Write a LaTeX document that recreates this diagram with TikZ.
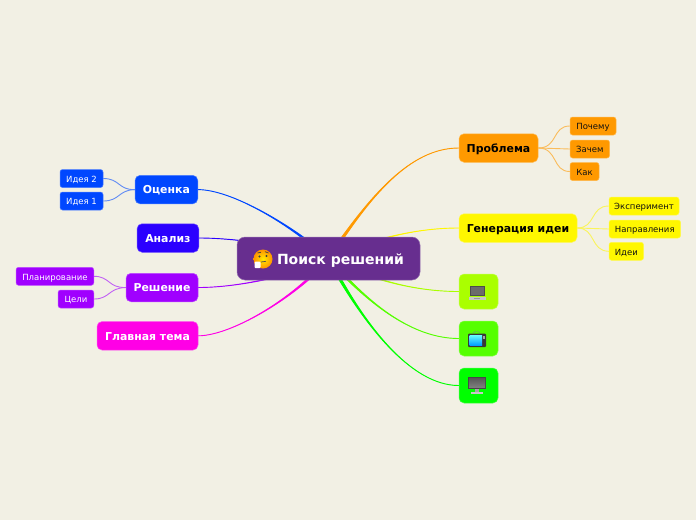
\documentclass[tikz,border=0pt]{standalone}
\usepackage{fontspec}
\usetikzlibrary{calc}
\setmainfont{DejaVu Sans}
\definecolor{bg}{HTML}{F2F0E4}
\definecolor{cmain}{HTML}{672E8F}
\definecolor{corange}{HTML}{FF9900}
\definecolor{cyellow}{HTML}{FFF700}
\definecolor{clime}{HTML}{AAFF00}
\definecolor{cgreenA}{HTML}{55FF00}
\definecolor{cgreenB}{HTML}{00FF00}
\definecolor{cblue}{HTML}{0047FF}
\definecolor{cindigo}{HTML}{2B00FF}
\definecolor{cpurple}{HTML}{A000FF}
\definecolor{cmagenta}{HTML}{FF00E6}
\definecolor{ink}{HTML}{111111}
\pgfdeclarelayer{paper}\pgfdeclarelayer{back}\pgfsetlayers{paper,back,main}
\tikzset{
  x=1pt,y=-1pt,
  box/.style n args={3}{rectangle,rounded corners=#3,inner sep=0pt,fill=#1,draw=#1!70!white,line width=.5pt,text=#2,align=center},
  topic/.style n args={2}{box={#1}{#2}{5pt},font=\fontsize{10.9}{13}\selectfont\bfseries,minimum height=28.5pt,text height=9.4pt,text depth=1pt},
  sub/.style n args={2}{box={#1}{#2}{2.5pt},font=\fontsize{8.5}{10}\selectfont,minimum height=18pt,text height=7.8pt,text depth=0pt},
  link/.style={line width=.9pt,line join=round},
  sublink/.style={line width=.9pt,#1!60!bg}
}
% tapered branch: colour, half-width offset at the centre, first control, second control, end
\newcommand{\branch}[5]{%
  \filldraw[link,#1] ($(c.center)+(#2)$) .. controls (#3) and (#4) .. (#5) .. controls (#4) and (#3) .. ($(c.center)-(#2)$) -- cycle;}
\begin{document}
\begin{tikzpicture}
\useasboundingbox (0,0) rectangle (696,520);
\begin{pgfonlayer}{paper}
\fill[bg] (0,0) rectangle (696,520);
\end{pgfonlayer}
% nodes
\node[box={cmain}{white}{8pt},minimum width=183pt,minimum height=43pt,font=\fontsize{14}{17}\selectfont\bfseries,text height=11pt,text depth=0pt] (c) at (328.5,258.5) {\hspace*{24pt}Поиск решений};
\node[topic={corange}{black},minimum width=79pt] (t1) at (498.5,148) {Проблема};
\node[topic={cyellow}{black},minimum width=118pt] (t2) at (518,228) {Генерация идеи};
\node[topic={clime}{black},minimum width=39pt,minimum height=35pt] (t3) at (478.5,291.5) {};
\node[topic={cgreenA}{black},minimum width=39pt,minimum height=35pt] (t4) at (478.5,338.5) {};
\node[topic={cgreenB}{black},minimum width=39pt,minimum height=35pt] (t5) at (478.5,385.5) {};
\node[topic={cblue}{white},minimum width=62.7pt] (t6) at (166.4,189.6) {Оценка};
\node[topic={cindigo}{white},minimum width=61.7pt] (t7) at (167.9,238) {Анализ};
\node[topic={cpurple}{white},minimum width=72pt] (t8) at (162,287.5) {Решение};
\node[topic={cmagenta}{white},minimum width=101pt] (t9) at (147.5,335.8) {Главная тема};
\node[sub={corange}{ink},minimum width=46pt] (a1) at (593,126) {Почему};
\node[sub={corange}{ink},minimum width=39.5pt] (a2) at (589.8,149) {Зачем};
\node[sub={corange}{ink},minimum width=29pt] (a3) at (584.5,171.5) {Как};
\node[sub={cyellow}{ink},minimum width=70pt] (b1) at (644,206) {Эксперимент};
\node[sub={cyellow}{ink},minimum width=71.5pt] (b2) at (644.8,229) {Направления};
\node[sub={cyellow}{ink},minimum width=34.5pt] (b3) at (626.3,251.3) {Идеи};
\node[sub={cblue}{white},minimum width=43pt] (d1) at (81.5,178.5) {Идея 2};
\node[sub={cblue}{white},minimum width=43pt] (d2) at (81.5,201) {Идея 1};
\node[sub={cpurple}{white},minimum width=77.7pt] (e1) at (54.9,276.3) {Планирование};
\node[sub={cpurple}{white},minimum width=35.7pt] (e2) at (75.9,299) {Цели};
% connectors behind nodes
\begin{pgfonlayer}{back}
\branch{corange}{1.4,.9}{370,196}{410,148}{t1.west}
\branch{cyellow}{.4,1.5}{365,242}{410,228}{t2.west}
\branch{clime}{.5,-1.5}{365,277}{410,291.5}{t3.west}
\branch{cgreenA}{1.2,-1}{365,300}{410,338.5}{t4.west}
\branch{cgreenB}{1.4,-.8}{364,325}{411,385.5}{t5.west}
\branch{cblue}{1,-1.2}{293,226}{232,189.6}{t6.east}
\branch{cindigo}{.3,-1.5}{290,246}{236,238}{t7.east}
\branch{cpurple}{.3,1.5}{290,277}{236,287.5}{t8.east}
\branch{cmagenta}{1,1.2}{295,298}{231,335.8}{t9.east}
\draw[sublink=corange] (t1.east) .. controls (558,148) and (552,126) .. (a1.west);
\draw[sublink=corange] (t1.east) -- (a2.west);
\draw[sublink=corange] (t1.east) .. controls (558,148) and (552,171.5) .. (a3.west);
\draw[sublink=cyellow] (t2.east) .. controls (596,228) and (590,206) .. (b1.west);
\draw[sublink=cyellow] (t2.east) -- (b2.west);
\draw[sublink=cyellow] (t2.east) .. controls (596,228) and (590,251) .. (b3.west);
\draw[sublink=cblue] (t6.west) .. controls (118,190) and (120,178.5) .. (d1.east);
\draw[sublink=cblue] (t6.west) .. controls (118,190) and (120,201) .. (d2.east);
\draw[sublink=cpurple] (t8.west) .. controls (108,288) and (110,276.3) .. (e1.east);
\draw[sublink=cpurple] (t8.west) .. controls (108,288) and (110,299) .. (e2.east);
\end{pgfonlayer}
% emoji
\shade[inner color=yellow!85!orange,outer color=orange!85!yellow] (263,259) circle (9.5);
\fill[black!75] (259.5,256.5) circle (1.2) (266.5,256) circle (1.2);
\draw[black!75,line width=.7pt] (257.5,253) -- (261,252.3) (265,251.7) -- (268.5,253);
\draw[black!70,line width=.7pt] (261,262) -- (266,261.3);
\fill[white,rounded corners=1pt] (254.5,261.5) rectangle (260.5,268);
% laptop
\fill[black!70] (469.5,286) rectangle (484.5,296);
\fill[black!58] (470.5,287) rectangle (483.5,295);
\fill[black!22] (468.5,296.5) -- (485.5,296.5) -- (485.5,300) -- (468.5,300) -- cycle;
\fill[black!40] (474,298) rectangle (480,299);
% tv
\fill[black!78,rounded corners=1pt] (468,333.5) rectangle (486,347);
\shade[top color=cyan!60!white,bottom color=cyan!60!blue] (469.5,335) rectangle (482,345.5);
\fill[black!35] (483,336) rectangle (485,339);
\draw[black!50,line width=.4pt] (473,333) -- (476,331) (480,333) -- (477,331);
% monitor
\fill[black!72] (468,377) rectangle (486,388.5);
\shade[top color=black!65,bottom color=black!50] (469,378) rectangle (485,387.5);
\fill[black!35] (475,388.5) rectangle (479,392);
\fill[black!22] (471,391.5) rectangle (483,394);
\end{tikzpicture}
\end{document}
